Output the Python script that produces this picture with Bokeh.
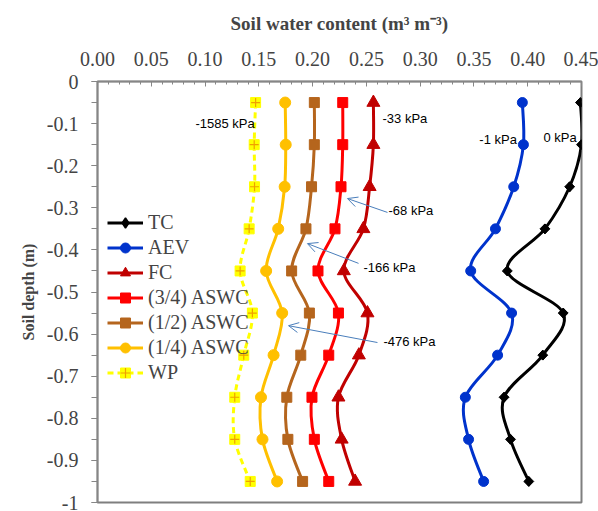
import numpy as np
from bokeh.plotting import figure
from bokeh.models import (Range1d, FixedTicker, Legend, LegendItem, Arrow, OpenHead, Label)
from bokeh.embed import file_html
from bokeh.resources import INLINE

# ---- data ----
depth = [-0.05, -0.15, -0.25, -0.35, -0.45, -0.55, -0.65, -0.75, -0.85, -0.95]
tc   = [0.449, 0.450, 0.439, 0.416, 0.381, 0.433, 0.414, 0.378, 0.384, 0.401]
aev  = [0.395, 0.396, 0.387, 0.370, 0.347, 0.385, 0.372, 0.342, 0.345, 0.359]
fc   = [0.2565, 0.2565, 0.253, 0.2472, 0.229, 0.251, 0.243, 0.224, 0.227, 0.2395]
aswc34 = [0.228, 0.228, 0.2264, 0.2208, 0.205, 0.224, 0.215, 0.1994, 0.2016, 0.215]
aswc12 = [0.2016, 0.2016, 0.199, 0.1938, 0.1805, 0.197, 0.189, 0.176, 0.177, 0.1907]
aswc14 = [0.1745, 0.175, 0.174, 0.168, 0.1568, 0.1717, 0.1637, 0.152, 0.1534, 0.167]
wp   = [0.147, 0.1457, 0.146, 0.141, 0.1326, 0.144, 0.136, 0.1276, 0.1276, 0.142]

x_ticks = [0.00, 0.05, 0.10, 0.15, 0.20, 0.25, 0.30, 0.35, 0.40, 0.45]
y_ticks = [0, -0.1, -0.2, -0.3, -0.4, -0.5, -0.6, -0.7, -0.8, -0.9, -1]
y_tick_labels = ["0", "-0.1", "-0.2", "-0.3", "-0.4", "-0.5", "-0.6", "-0.7", "-0.8", "-0.9", "-1"]

pressure_labels = ["-1585 kPa", "-33 kPa", "-1 kPa", "0 kPa", "-68 kPa", "-166 kPa", "-476 kPa"]

SERIF = "Liberation Serif"
SANS = "Liberation Sans"

p = figure(width=598, height=511, output_backend="svg", toolbar_location=None,
           x_range=Range1d(0, 0.45), y_range=Range1d(-1, 0),
           x_axis_location="above", min_border_left=97, min_border_right=17,
           min_border_top=81, min_border_bottom=9)
p.xgrid.visible = False
p.ygrid.visible = False
p.background_fill_color = "white"
p.border_fill_color = "white"
p.outline_line_color = "#7f7f7f"
p.outline_line_width = 2

AX = "#868686"
xa = p.xaxis[0]
xa.ticker = FixedTicker(ticks=x_ticks, minor_ticks=list(np.round(np.arange(0, 0.4501, 0.01), 3)))
xa.major_label_overrides = {t: f"{t:.2f}" for t in x_ticks}
xa.axis_label = "Soil water content (m³ m⁻³)"
xa.axis_label_text_font = SERIF
xa.axis_label_text_font_style = "bold"
xa.axis_label_text_font_size = "19px"
xa.axis_label_standoff = 15
xa.major_label_text_font = SERIF
xa.major_label_text_font_size = "20px"
xa.major_label_standoff = 16
xa.axis_line_color = AX
xa.axis_line_width = 1.5
xa.major_tick_line_color = AX
xa.minor_tick_line_color = AX
xa.major_tick_in = 5
xa.major_tick_out = 0
xa.minor_tick_in = 3
xa.minor_tick_out = 0

ya = p.yaxis[0]
ya.ticker = FixedTicker(ticks=y_ticks, minor_ticks=list(np.round(np.arange(-1, 0.0001, 0.05), 3)))
ya.major_label_overrides = dict(zip(y_ticks, y_tick_labels))
ya.axis_label = "Soil depth (m)"
ya.axis_label_text_font = SERIF
ya.axis_label_text_font_style = "bold"
ya.axis_label_text_font_size = "16px"
ya.axis_label_standoff = 7
ya.major_label_text_font = SERIF
ya.major_label_text_font_size = "20px"
ya.major_label_standoff = 13
ya.axis_line_color = AX
ya.axis_line_width = 1.5
ya.major_tick_line_color = AX
ya.minor_tick_line_color = AX
ya.major_tick_in = 0
ya.major_tick_out = 6
ya.minor_tick_in = 0
ya.minor_tick_out = 6


def smooth_segments(xs, ys):
    n = len(xs)
    P = [(xs[i], ys[i]) for i in range(n)]
    x0, y0, x1, y1, cx0, cy0, cx1, cy1 = ([] for _ in range(8))
    for i in range(n - 1):
        pm = P[i - 1] if i > 0 else P[i]
        pa, pb = P[i], P[i + 1]
        pn = P[i + 2] if i + 2 < n else P[i + 1]
        x0.append(pa[0]); y0.append(pa[1]); x1.append(pb[0]); y1.append(pb[1])
        cx0.append(pa[0] + (pb[0] - pm[0]) / 6); cy0.append(pa[1] + (pb[1] - pm[1]) / 6)
        cx1.append(pb[0] - (pn[0] - pa[0]) / 6); cy1.append(pb[1] - (pn[1] - pa[1]) / 6)
    return dict(x0=x0, y0=y0, x1=x1, y1=y1, cx0=cx0, cy0=cy0, cx1=cx1, cy1=cy1)


series = [
    ("TC", tc, "black", "square", 7, np.pi / 4, None),
    ("AEV", aev, "#0033cc", "circle", 10, 0, None),
    ("FC", fc, "#c00000", "triangle", 13, 0, None),
    ("(3/4) ASWC", aswc34, "#ff0000", "square", 10, 0, None),
    ("(1/2) ASWC", aswc12, "#b5651d", "square", 10, 0, None),
    ("(1/4) ASWC", aswc14, "#ffc000", "circle", 11, 0, None),
    ("WP", wp, "#ffff00", "square", 10, 0, "6 4"),
]

items = []
for name, xs, color, marker, size, ang, dash in series:
    seg = smooth_segments(xs, depth)
    kw = dict(line_color=color, line_width=3)
    if dash:
        kw["line_dash"] = dash
    br = p.bezier(**seg, **kw)
    rs = [br]
    if name == "TC":
        # diamond (hidden under the rotated squares) gives the legend its diamond glyph
        dr = p.scatter(xs, depth, marker="diamond", size=9, fill_color=color,
                       line_color=color, line_width=1.5)
        rs.append(dr)
    sr = p.scatter(xs, depth, marker=marker, size=size, angle=ang,
                   fill_color=color, line_color=color, line_width=1)
    if name != "TC":
        rs.append(sr)
    if name == "WP":
        cr = p.scatter(xs, depth, marker="cross", size=9, line_color="#f0a000", line_width=1.2)
        rs.append(cr)
    items.append(LegendItem(label=name, renderers=rs))

legend = Legend(items=items, location=(10, 117), padding=0, margin=0, spacing=0,
                glyph_width=36, glyph_height=25, label_height=25, label_standoff=5,
                label_text_font=SERIF, label_text_font_size="20px",
                background_fill_alpha=0, border_line_alpha=0)
p.add_layout(legend)

# ---- annotations ----
label_pos = [(0.0911, -0.0998), (0.265, -0.088), (0.355, -0.138), (0.4147, -0.133),
             (0.2706, -0.306), (0.2473, -0.442), (0.2659, -0.6176)]
for txt, (lx, ly) in zip(pressure_labels, label_pos):
    p.add_layout(Label(x=lx, y=ly, text=txt, text_font=SANS, text_font_size="13px",
                       text_baseline="middle", text_align="left", text_color="black"))

arrows = [((0.2696, -0.311), (0.2324, -0.278)),
          ((0.2427, -0.432), (0.1952, -0.385)),
          ((0.2603, -0.620), (0.1776, -0.580))]
for (xs_, ys_), (xe, ye) in arrows:
    p.add_layout(Arrow(x_start=xs_, y_start=ys_, x_end=xe, y_end=ye,
                       line_color="#4a7ebb", line_width=1,
                       end=OpenHead(size=10, line_color="#4a7ebb", line_width=1)))

open("out.html", "w").write(file_html(p, INLINE))
